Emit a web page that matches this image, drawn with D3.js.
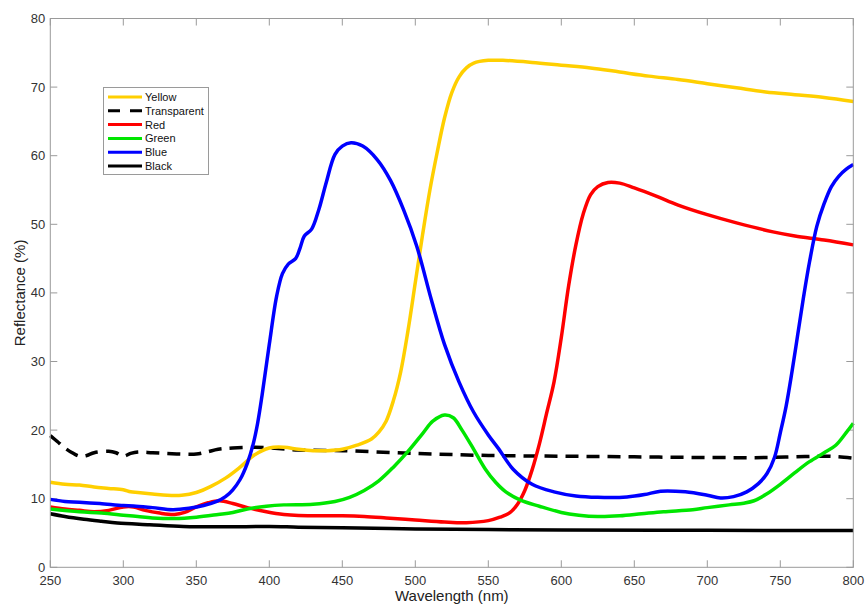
<!DOCTYPE html>
<html>
<head>
<meta charset="utf-8">
<script src="https://cdn.jsdelivr.net/npm/d3@7"></script>
<style>
  body { margin: 0; background: #fff; }
  svg { font-family: "Liberation Sans", Arial, Helvetica, sans-serif; }
  .tick-label { font-size: 13px; fill: #333; }
  .axis-title { font-size: 15px; fill: #222; }
  .legend-text { font-size: 11px; fill: #111; }
</style>
</head>
<body>
<div id="chart"></div>
<script>
// reflectance spectra, [wavelength nm, reflectance %]
const yellowPts = [[250,12.4],[260,12.1],[270,12.0],[280,11.7],[290,11.5],[300,11.3],[305,11.0],[310,10.9],[320,10.7],[330,10.5],[340,10.5],[350,10.9],[360,11.8],[370,13.0],[380,14.6],[390,16.4],[400,17.4],[410,17.5],[420,17.2],[430,17.0],[440,17.0],[450,17.2],[460,17.8],[470,18.7],[475,19.7],[480,21.3],[485,24.3],[490,28.5],[495,34.5],[500,41.5],[505,48.5],[510,55.0],[515,60.5],[520,65.5],[525,69.2],[530,71.5],[535,72.8],[540,73.5],[550,73.9],[560,73.9],[580,73.6],[600,73.2],[620,72.8],[640,72.2],[660,71.6],[680,71.1],[700,70.5],[720,69.9],[740,69.3],[760,68.9],[780,68.5],[800,67.9]];
const transparentPts = [[250,19.2],[255,18.3],[260,17.4],[265,16.7],[270,16.2],[275,16.3],[280,16.7],[290,16.9],[295,16.7],[300,16.2],[305,16.6],[310,16.8],[320,16.7],[330,16.6],[340,16.5],[350,16.5],[357,16.8],[365,17.2],[375,17.4],[390,17.5],[400,17.4],[420,17.1],[450,17.0],[500,16.6],[550,16.3],[600,16.2],[650,16.1],[700,16.0],[740,16.0],[760,16.1],[780,16.2],[790,16.1],[800,15.9]];
const redPts = [[250,8.8],[260,8.5],[270,8.3],[280,8.1],[290,8.3],[300,8.8],[307,8.8],[315,8.3],[325,7.9],[335,7.7],[342,8.0],[350,8.8],[358,9.4],[366,9.7],[375,9.3],[385,8.7],[398,8.1],[410,7.7],[420,7.55],[450,7.5],[465,7.4],[480,7.2],[500,6.9],[520,6.6],[535,6.5],[550,6.8],[558,7.3],[565,8.0],[570,9.2],[575,11.2],[580,14.2],[585,18.0],[590,22.5],[595,27.0],[600,33.5],[605,41.0],[610,47.0],[615,51.5],[620,54.3],[625,55.5],[632,56.1],[640,56.0],[650,55.3],[665,54.1],[680,52.8],[700,51.4],[720,50.2],[745,48.9],[760,48.3],[780,47.7],[800,47.0]];
const greenPts = [[250,8.5],[270,8.1],[285,7.9],[300,7.6],[310,7.4],[320,7.2],[335,7.1],[350,7.3],[365,7.7],[375,8.0],[385,8.5],[398,8.9],[410,9.1],[430,9.2],[445,9.6],[455,10.2],[465,11.2],[475,12.6],[485,14.6],[495,16.9],[505,19.5],[512,21.3],[520,22.2],[526,21.8],[532,20.0],[540,17.2],[548,14.3],[555,12.4],[562,11.0],[572,9.8],[585,8.9],[600,8.0],[612,7.6],[625,7.4],[640,7.5],[655,7.8],[670,8.1],[690,8.4],[700,8.7],[715,9.1],[725,9.35],[732,9.7],[740,10.6],[750,12.1],[760,13.8],[770,15.4],[780,16.7],[788,17.8],[795,19.6],[800,21.0]];
const bluePts = [[250,9.9],[260,9.6],[270,9.5],[284,9.3],[300,9.0],[307,8.95],[320,8.7],[334,8.4],[345,8.6],[355,9.0],[364,9.6],[370,10.3],[375,11.3],[380,12.8],[385,15.2],[389,18.0],[392,21.0],[395,25.0],[400,32.5],[405,39.5],[409,42.8],[413,44.2],[418,45.0],[421,46.5],[424,48.3],[429,49.3],[434,52.2],[439,56.1],[445,60.2],[450,61.4],[456,61.9],[464,61.4],[474,59.4],[483,56.4],[492,52.1],[501,46.8],[511,39.0],[520,32.5],[530,27.0],[540,22.6],[550,19.3],[557,17.3],[567,14.3],[580,12.1],[595,11.0],[610,10.4],[625,10.2],[645,10.25],[657,10.6],[668,11.1],[685,11.0],[700,10.5],[709,10.1],[718,10.3],[727,11.0],[735,12.2],[741,13.7],[746,16.0],[750,19.6],[754,23.5],[758,28.5],[762,34.0],[766,39.5],[770,44.5],[775,49.7],[780,53.0],[785,55.5],[790,57.0],[795,58.0],[800,58.7]];
const blackPts = [[250,7.8],[260,7.4],[273,7.0],[285,6.7],[296,6.45],[318,6.2],[341,5.95],[370,5.9],[400,5.95],[420,5.85],[450,5.75],[500,5.6],[550,5.5],[600,5.45],[700,5.4],[800,5.35]];

const seriesNames = ["Yellow", "Transparent", "Red", "Green", "Blue", "Black"];
const seriesColors = ["#ffcf00", "#000000", "#ff0000", "#00e600", "#0000ff", "#000000"];
const seriesData = [yellowPts, transparentPts, redPts, greenPts, bluePts, blackPts];

const xTicks = [250, 300, 350, 400, 450, 500, 550, 600, 650, 700, 750, 800];
const yTicks = [0, 10, 20, 30, 40, 50, 60, 70, 80];

const width = 865, height = 606;
const plotLeft = 50.3, plotRight = 853.3, plotTop = 18.5, plotBottom = 567.3;

const svg = d3.select("#chart").append("svg")
    .attr("width", width)
    .attr("height", height);

const x = d3.scaleLinear().domain([250, 800]).range([plotLeft, plotRight]);
const y = d3.scaleLinear().domain([0, 80]).range([plotBottom, plotTop]);

const axisColor = "#9a9a9a";
const tickLen = 7;

// ticks, all pointing inward like matlab
xTicks.forEach(function(t) {
    svg.append("line").attr("x1", x(t)).attr("x2", x(t))
        .attr("y1", plotBottom).attr("y2", plotBottom - tickLen)
        .attr("stroke", axisColor);
    svg.append("line").attr("x1", x(t)).attr("x2", x(t))
        .attr("y1", plotTop).attr("y2", plotTop + tickLen)
        .attr("stroke", axisColor);
    svg.append("text").attr("class", "tick-label")
        .attr("x", x(t)).attr("y", plotBottom + 18)
        .attr("text-anchor", "middle")
        .text(t);
});

yTicks.forEach(function(t) {
    svg.append("line").attr("x1", plotLeft).attr("x2", plotLeft + tickLen)
        .attr("y1", y(t)).attr("y2", y(t))
        .attr("stroke", axisColor);
    svg.append("line").attr("x1", plotRight).attr("x2", plotRight - tickLen)
        .attr("y1", y(t)).attr("y2", y(t))
        .attr("stroke", axisColor);
    svg.append("text").attr("class", "tick-label")
        .attr("x", plotLeft - 5).attr("y", y(t) + 4.5)
        .attr("text-anchor", "end")
        .text(t);
});

const line = d3.line()
    .x(function(d) { return x(d[0]); })
    .y(function(d) { return y(d[1]); })
    .curve(d3.curveCatmullRom.alpha(0.5));

// draw back to front so black ends on top like the original
const drawOrder = [1, 0, 2, 3, 4, 5];
drawOrder.forEach(function(i) {
    svg.append("path")
        .datum(seriesData[i])
        .attr("d", line)
        .attr("fill", "none")
        .attr("stroke", seriesColors[i])
        .attr("stroke-width", 3.5)
        .attr("stroke-linejoin", "round")
        .attr("stroke-dasharray", seriesNames[i] === "Transparent" ? "13,8" : null);
});

// box
svg.append("rect")
    .attr("x", plotLeft).attr("y", plotTop)
    .attr("width", plotRight - plotLeft).attr("height", plotBottom - plotTop)
    .attr("fill", "none")
    .attr("stroke", axisColor);

svg.append("text").attr("class", "axis-title")
    .attr("x", (plotLeft + plotRight) / 2).attr("y", 601)
    .attr("text-anchor", "middle")
    .text("Wavelength (nm)");

svg.append("text").attr("class", "axis-title")
    .attr("transform", "translate(25," + (plotTop + plotBottom) / 2 + ") rotate(-90)")
    .attr("text-anchor", "middle")
    .text("Reflectance (%)");

// legend
const legend = svg.append("g");
legend.append("rect")
    .attr("x", 103.5).attr("y", 87.5)
    .attr("width", 105).attr("height", 87)
    .attr("fill", "#fff")
    .attr("stroke", axisColor);

seriesNames.forEach(function(name, i) {
    const ly = 97 + i * 13.8;
    legend.append("line")
        .attr("x1", 108).attr("x2", 142)
        .attr("y1", ly).attr("y2", ly)
        .attr("stroke", seriesColors[i])
        .attr("stroke-width", 3)
        .attr("stroke-dasharray", name === "Transparent" ? "12,10" : null);
    legend.append("text").attr("class", "legend-text")
        .attr("x", 145).attr("y", ly + 4)
        .text(name);
});
</script>
</body>
</html>
